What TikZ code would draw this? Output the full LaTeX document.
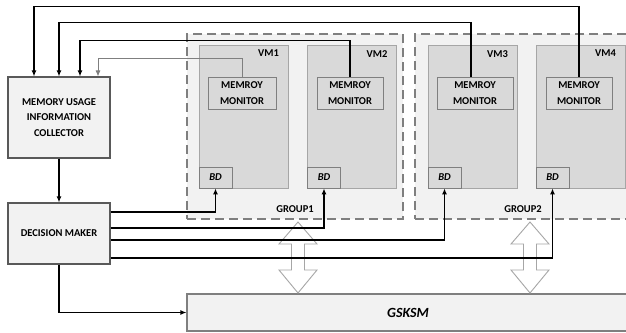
\documentclass[tikz,border=0pt]{standalone}
\usepackage{fontspec}
\setmainfont{Carlito}
\usetikzlibrary{arrows.meta, positioning, calc}
\definecolor{PanelGray}{RGB}{242,242,242}
\definecolor{VmGray}{RGB}{217,217,217}
\definecolor{EdgeGray}{RGB}{166,166,166}
\definecolor{LineGray}{RGB}{127,127,127}
\definecolor{BoxEdge}{RGB}{89,89,89}

\begin{document}
\begin{tikzpicture}[x=1pt, y=-1pt,
    font=\fontsize{10.5}{15.5}\selectfont\bfseries,
    mainbox/.style={draw=BoxEdge, line width=1.1pt, fill=PanelGray, align=center, inner sep=0pt},
    groupbox/.style={draw=LineGray, line width=1.1pt, dash pattern=on 9pt off 5pt, fill=PanelGray, minimum width=216pt, minimum height=185pt, inner sep=0pt},
    vmbox/.style={draw=EdgeGray, line width=0.8pt, fill=VmGray, minimum width=89pt, minimum height=143pt, inner sep=0pt},
    monbox/.style={draw=LineGray, line width=0.8pt, fill=VmGray, align=center, minimum height=32pt, inner sep=0pt},
    bdbox/.style={draw=LineGray, line width=0.8pt, fill=VmGray, minimum width=33pt, minimum height=21pt, inner sep=0pt, font=\fontsize{10.5}{12}\selectfont\bfseries\itshape},
    arr/.style={-{Latex[length=6pt,width=5pt]}, line width=1.2pt},
    hollow/.style={draw=EdgeGray, line width=0.9pt, fill=white}]
          \clip (0,0) rectangle (626,332);
          \fill[white] (0,0) rectangle (626,332);
          \node[groupbox] (group1) at (295,126.5) {};
          \node[groupbox] (group2) at (523,126.5) {};
          \node[anchor=south] at ([yshift=3pt]group1.south) {GROUP1};
          \node[anchor=south] at ([yshift=3pt]group2.south) {GROUP2};
          \node[vmbox] (vm1) at (243.5,116.5) {};
          \node[vmbox] (vm2) at (352,116.5) {};
          \node[vmbox] (vm3) at (472.5,116.5) {};
          \node[vmbox] (vm4) at (580.5,116.5) {};
          \foreach \i in {1,...,4}
            \node[anchor=north east] at ([xshift=-6pt,yshift=-2pt]vm\i.north east) {VM\i};
          \node[monbox, minimum width=68pt] (mon1) at (242,93) {MEMROY\\MONITOR};
          \node[monbox, minimum width=66pt] (mon2) at (350,93) {MEMROY\\MONITOR};
          \node[monbox, minimum width=76pt] (mon3) at (475,93) {MEMROY\\MONITOR};
          \node[monbox, minimum width=66pt] (mon4) at (579,93) {MEMROY\\MONITOR};
          \foreach \i in {1,...,4}
            \node[bdbox, anchor=south west] (bd\i) at (vm\i.south west) {BD};
          \node[mainbox, minimum width=102pt, minimum height=81pt] (collector) at (59,117.5) {MEMORY USAGE\\INFORMATION\\COLLECTOR};
          \node[mainbox, minimum width=102pt, minimum height=61pt] (decision) at (59,233.5) {DECISION MAKER};
          \node[mainbox, draw=LineGray, minimum width=442pt, minimum height=37pt, font=\fontsize{14}{16}\selectfont\bfseries\itshape] (gsksm) at (408,312.5) {GSKSM};
          \foreach \cx in {298,530}
            \draw[hollow] (\cx,222) -- ++(19,22) -- ++(-12.5,0) -- ++(0,26) -- ++(12.5,0) -- ++(-19,23) -- ++(-19,-23) -- ++(12.5,0) -- ++(0,-26) -- ++(-12.5,0) -- cycle;
          \draw[arr, draw=LineGray, line width=0.9pt] (mon1.north) -- ++(0,-18) -| ([xshift=39pt]collector.north);
          \draw[arr] (mon2.north) -- ++(0,-36) -| ([xshift=21pt]collector.north);
          \draw[arr] ([xshift=-4pt]mon3.north) -- ++(0,-54) -| (collector.north);
          \draw[arr] (mon4.north) -- ++(0,-70) -| ([xshift=-25pt]collector.north);
          \draw[arr] (collector) -- (decision);
          \draw[arr] ([yshift=21.5pt]decision.east) -| (bd1.south);
          \draw[arr] ([yshift=5.5pt]decision.east) -| (bd2.south);
          \draw[arr] ([yshift=-6.5pt]decision.east) -| (bd3.south);
          \draw[arr] ([yshift=-24.5pt]decision.east) -| (bd4.south);
          \draw[arr] (decision.south) |- (gsksm.west);
        \end{tikzpicture}
\end{document}
